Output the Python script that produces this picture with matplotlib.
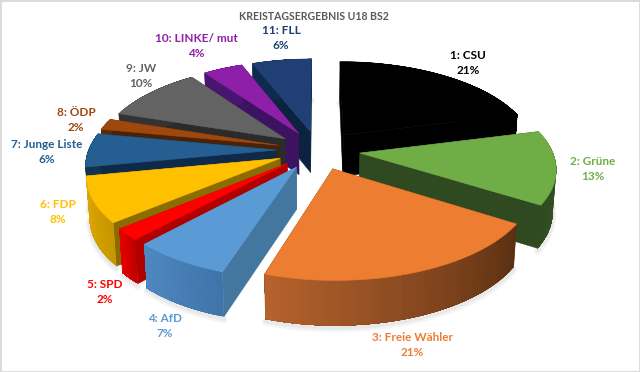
import matplotlib
matplotlib.use('Agg')
import matplotlib.pyplot as plt
import matplotlib.colors as mcolors
from matplotlib.patches import Rectangle
import numpy as np

# Daten
parties = ['CSU', 'Grüne', 'Freie Wähler', 'AfD', 'SPD', 'FDP', 'Junge Liste', 'ÖDP', 'JW', 'LINKE/ mut', 'FLL']
values = [21, 13, 21, 7, 2, 8, 6, 2, 10, 4, 6]
title = 'KREISTAGSERGEBNIS U18 BS2'

# Farben: Oberseite, Schnittfläche, Außenrand (links / rechts)
top_colors = ['#000000', '#70ad47', '#ed7d31', '#5b9bd5', '#ff0000', '#ffc000', '#255e91', '#9e480e', '#636363', '#8e1fa8', '#1f3f75']
cut_colors = ['#000000', '#2f4a20', '#5c3011', '#44779f', '#b00000', '#8a6c00', '#0f2a48', '#4a2207', '#2b2b2b', '#3d1260', '#0c2340']
rim_left = ['#000000', '#3c5c28', '#b5622d', '#4f88c0', '#e80000', '#e3ac00', '#12324f', '#5a2a09', '#333333', '#481670', '#0f2a4c']
rim_right = ['#000000', '#2f4a20', '#5b3012', '#3f74aa', '#c00000', '#c79600', '#12324f', '#5a2a09', '#333333', '#481670', '#0f2a4c']
label_colors = ['#000000', '#70ad47', '#ed7d31', '#5b9bd5', '#ff0000', '#ffc000', '#255e91', '#9e480e', '#636363', '#8e1fa8', '#1f3f75']

# Beschriftungen in Pixeln
label_x = [468, 593, 412, 165, 105, 58, 47, 76, 141, 196, 281]
label_y = [63, 169, 345, 326, 292, 212, 152, 120, 76, 46, 38]

# Perspektive
cx, cy = 318, 150
A_left, A_right, B, k = 188, 192, 88.5, 0.15
depth = 41.5
explode = 0.22


def project(u, v, lower=False):
    s = 1 / (1 + k * v)
    x = np.where(u < 0, A_left, A_right) * u * s
    y = -B * v * s
    if lower:
        return cx + x * 0.985, cy + y + depth * (0.6 + 0.4 * s)
    return cx + x, cy + y


def fill(ax, xs, ys, color, z, lw=0.0):
    ax.fill(xs, ys, color=color, lw=lw, joinstyle='round', zorder=z)


fig = plt.figure(figsize=(6.4, 3.72), dpi=100, facecolor='white')
ax = fig.add_axes([0, 0, 1, 1])
ax.set_xlim(0, 640)
ax.set_ylim(372, 0)
ax.axis('off')

# Rahmen
ax.add_patch(Rectangle((0, 0), 640, 372, fill=False, ec='#d9d9d9', lw=2, zorder=1))

# Winkel im Uhrzeigersinn ab 12 Uhr
edges = np.cumsum([0] + values) / sum(values) * 2 * np.pi
mids = (edges[:-1] + edges[1:]) / 2
order = np.argsort(-np.cos(mids))

for rank, i in enumerate(order):
    z = 2 + rank
    a = np.linspace(edges[i], edges[i + 1], 40)
    u0 = explode * np.sin(mids[i])
    v0 = explode * np.cos(mids[i])
    u = u0 + np.sin(a)
    v = v0 + np.cos(a)

    # Schatten
    bx, by = project(u, v, lower=True)
    ax.plot(bx, by + 3, color='#9a9a9a', lw=5, alpha=0.10, zorder=z, solid_capstyle='round')
    ax.plot(bx, by + 2, color='#9a9a9a', lw=3, alpha=0.12, zorder=z, solid_capstyle='round')

    # Schnittflächen
    for ue, ve in [(u[0], v[0]), (u[-1], v[-1])]:
        x1, y1 = project(np.array([u0, ue]), np.array([v0, ve]))
        x2, y2 = project(np.array([ue, u0]), np.array([ve, v0]), lower=True)
        fill(ax, np.r_[x1, x2], np.r_[y1, y2], cut_colors[i], z, lw=0.4)

    # Außenrand mit Verlauf, Streifen überlappen sich damit keine Fugen entstehen
    tx, ty = project(u, v)
    c1 = np.array(mcolors.to_rgb(rim_left[i]))
    c2 = np.array(mcolors.to_rgb(rim_right[i]))
    # links/rechts auf dem Bild, nicht nach Winkel
    if tx[0] > tx[-1]:
        c1, c2 = c2, c1
    for j in range(len(a) - 1):
        col = c1 + (c2 - c1) * j / (len(a) - 2)
        e = len(a)
        fill(ax, np.r_[tx[j:e], bx[j:e][::-1]], np.r_[ty[j:e], by[j:e][::-1]], col, z)

    # Oberseite
    x0, y0 = project(u0, v0)
    fill(ax, np.r_[x0, tx], np.r_[y0, ty], top_colors[i], z, lw=0.4)

for i in range(len(parties)):
    ax.text(label_x[i], label_y[i], f'{i + 1}: {parties[i]}\n{values[i]}%', color=label_colors[i],
            ha='center', va='center', family='Lato', fontweight='bold', fontsize=8.5, linespacing=1.35, zorder=50)

ax.text(314, 16, title, color='#595959', ha='center', va='center', family='Lato', fontweight='bold', fontsize=7.6, zorder=50)

fig.savefig('out.png', dpi=100)
